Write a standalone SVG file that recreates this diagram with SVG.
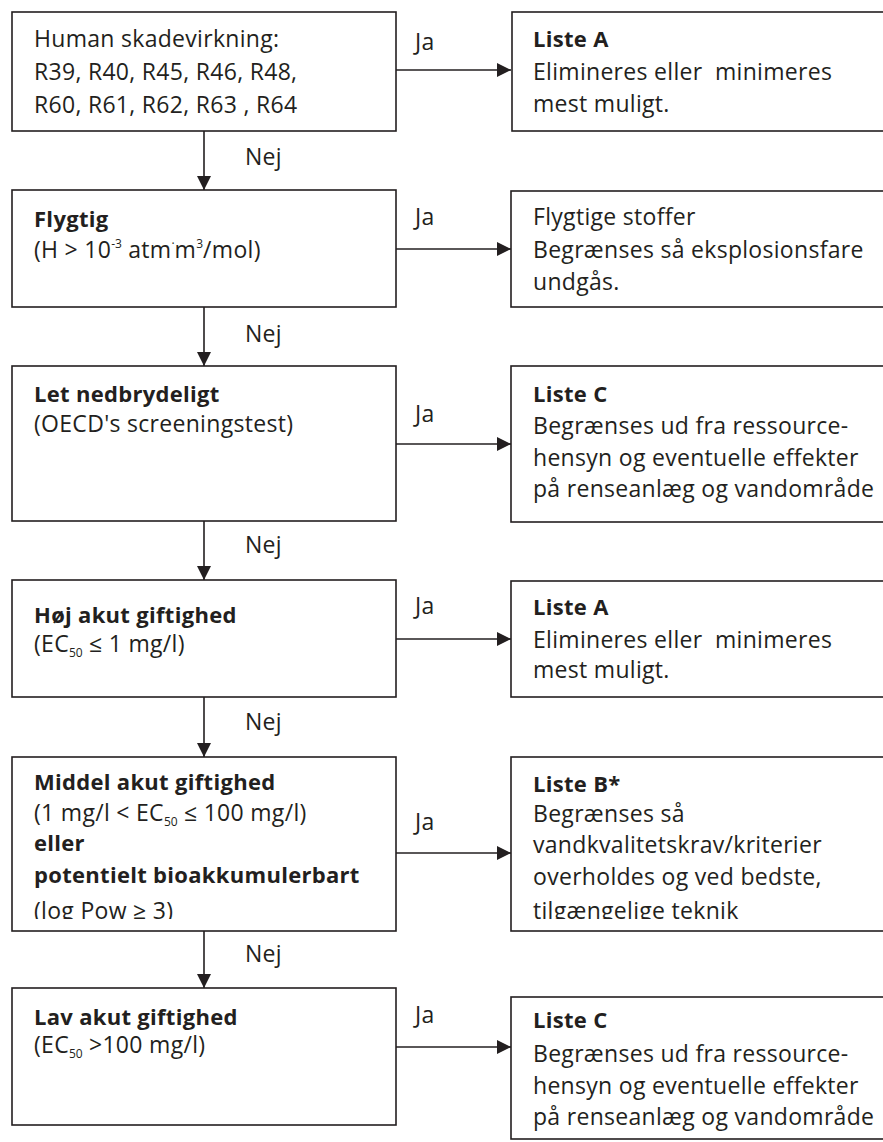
<svg xmlns="http://www.w3.org/2000/svg" width="883" height="1142" viewBox="0 0 883 1142">
<style>
.box{fill:#fff;stroke:#231f20;stroke-width:1.6}
.t{font-family:"Open Sans","Liberation Sans",sans-serif;font-size:23px;letter-spacing:0.3px;fill:#231f20}
.b{font-weight:bold;font-size:22px}
.ln{stroke:#231f20;stroke-width:1.6;fill:none}
.sm{font-size:12px;letter-spacing:0}
</style>
<defs>
<marker id="ah" viewBox="0 0 10 10" refX="10" refY="5" markerWidth="15" markerHeight="14" markerUnits="userSpaceOnUse" orient="auto">
<path d="M0,0 L10,5 L0,10 z" fill="#231f20"/>
</marker>
<clipPath id="c5l"><rect x="0" y="740" width="400" height="179"/></clipPath>
<clipPath id="c5r"><rect x="500" y="740" width="383" height="179"/></clipPath>
</defs>
<g id="connectors">
<line class="ln" x1="396" y1="70" x2="511" y2="70" marker-end="url(#ah)"/>
<line class="ln" x1="396" y1="249" x2="511" y2="249" marker-end="url(#ah)"/>
<line class="ln" x1="396" y1="444" x2="511" y2="444" marker-end="url(#ah)"/>
<line class="ln" x1="396" y1="639" x2="511" y2="639" marker-end="url(#ah)"/>
<line class="ln" x1="396" y1="853" x2="511" y2="853" marker-end="url(#ah)"/>
<line class="ln" x1="396" y1="1047" x2="511" y2="1047" marker-end="url(#ah)"/>
<line class="ln" x1="204" y1="131" x2="204" y2="190" marker-end="url(#ah)"/>
<line class="ln" x1="204" y1="307" x2="204" y2="366" marker-end="url(#ah)"/>
<line class="ln" x1="204" y1="521" x2="204" y2="580" marker-end="url(#ah)"/>
<line class="ln" x1="204" y1="697" x2="204" y2="757" marker-end="url(#ah)"/>
<line class="ln" x1="204" y1="931" x2="204" y2="988" marker-end="url(#ah)"/>
<text class="t" x="415" y="50">Ja</text>
<text class="t" x="415" y="225">Ja</text>
<text class="t" x="415" y="422">Ja</text>
<text class="t" x="415" y="614">Ja</text>
<text class="t" x="415" y="830">Ja</text>
<text class="t" x="415" y="1023">Ja</text>
<text class="t" x="245" y="165">Nej</text>
<text class="t" x="245" y="342">Nej</text>
<text class="t" x="245" y="553">Nej</text>
<text class="t" x="245" y="730">Nej</text>
<text class="t" x="245" y="962">Nej</text>
</g>
<g id="n1">
<rect class="box" x="12" y="12" width="384" height="119"/>
<text class="t" x="34" y="47">Human skadevirkning:</text>
<text class="t" x="34" y="80">R39, R40, R45, R46, R48,</text>
<text class="t" x="34" y="113">R60, R61, R62, R63 , R64</text>
</g>
<g id="r1">
<rect class="box" x="512" y="12" width="380" height="119"/>
<text class="t b" x="533" y="47">Liste A</text>
<text class="t" x="533" y="80" xml:space="preserve">Elimineres eller  minimeres</text>
<text class="t" x="533" y="112">mest muligt.</text>
</g>
<g id="n2">
<rect class="box" x="12" y="190" width="384" height="117"/>
<text class="t b" x="34" y="227">Flygtig</text>
<text class="t" x="34" y="258">(H &gt; 10<tspan class="sm" dy="-10">-3</tspan><tspan dy="10"> atm</tspan><tspan class="sm" dy="-10">·</tspan><tspan dy="10">m</tspan><tspan class="sm" dy="-10">3</tspan><tspan dy="10">/mol)</tspan></text>
</g>
<g id="r2">
<rect class="box" x="511" y="191" width="380" height="116"/>
<text class="t" x="533" y="225">Flygtige stoffer</text>
<text class="t" x="533" y="258">Begrænses så eksplosionsfare</text>
<text class="t" x="533" y="290">undgås.</text>
</g>
<g id="n3">
<rect class="box" x="12" y="366" width="384" height="155"/>
<text class="t b" x="34" y="402">Let nedbrydeligt</text>
<text class="t" x="34" y="432">(OECD's screeningstest)</text>
</g>
<g id="r3">
<rect class="box" x="511" y="366" width="380" height="156"/>
<text class="t b" x="533" y="402">Liste C</text>
<text class="t" x="533" y="434">Begrænses ud fra ressource-</text>
<text class="t" x="533" y="466">hensyn og eventuelle effekter</text>
<text class="t" x="533" y="497">på renseanlæg og vandområde</text>
</g>
<g id="n4">
<rect class="box" x="12" y="580" width="384" height="117"/>
<text class="t b" x="34" y="623">Høj akut giftighed</text>
<text class="t" x="34" y="652">(EC<tspan class="sm" dy="5">50</tspan><tspan dy="-5"> ≤ 1 mg/l)</tspan></text>
</g>
<g id="r4">
<rect class="box" x="511" y="581" width="380" height="116"/>
<text class="t b" x="533" y="615">Liste A</text>
<text class="t" x="533" y="648" xml:space="preserve">Elimineres eller  minimeres</text>
<text class="t" x="533" y="678">mest muligt.</text>
</g>
<g id="n5">
<rect class="box" x="12" y="757" width="384" height="174"/>
<g clip-path="url(#c5l)">
<text class="t b" x="34" y="790">Middel akut giftighed</text>
<text class="t" x="34" y="821">(1 mg/l &lt; EC<tspan class="sm" dy="5">50</tspan><tspan dy="-5"> ≤ 100 mg/l)</tspan></text>
<text class="t b" x="34" y="851">eller</text>
<text class="t b" x="34" y="883">potentielt bioakkumulerbart</text>
<text class="t" x="34" y="919">(log Pow ≥ 3)</text>
</g>
</g>
<g id="r5">
<rect class="box" x="511" y="757" width="380" height="174"/>
<g clip-path="url(#c5r)">
<text class="t b" x="533" y="792">Liste B*</text>
<text class="t" x="533" y="822">Begrænses så</text>
<text class="t" x="533" y="853">vandkvalitetskrav/kriterier</text>
<text class="t" x="533" y="885">overholdes og ved bedste,</text>
<text class="t" x="533" y="919">tilgængelige teknik</text>
</g>
</g>
<g id="n6">
<rect class="box" x="12" y="988" width="384" height="137"/>
<text class="t b" x="34" y="1025">Lav akut giftighed</text>
<text class="t" x="34" y="1053">(EC<tspan class="sm" dy="5">50</tspan><tspan dy="-5"> &gt;100 mg/l)</tspan></text>
</g>
<g id="r6">
<rect class="box" x="511" y="997" width="380" height="142"/>
<text class="t b" x="533" y="1028">Liste C</text>
<text class="t" x="533" y="1062">Begrænses ud fra ressource-</text>
<text class="t" x="533" y="1094">hensyn og eventuelle effekter</text>
<text class="t" x="533" y="1125">på renseanlæg og vandområde</text>
</g>
</svg>
